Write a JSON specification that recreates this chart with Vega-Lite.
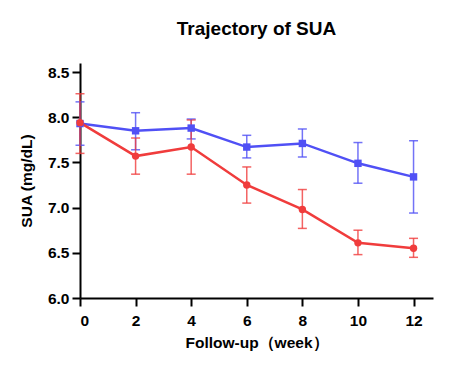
{
  "$schema": "https://vega.github.io/schema/vega-lite/v6.json",
  "width": 353,
  "height": 235,
  "autosize": "none",
  "padding": {"left": 80, "top": 63, "right": 25, "bottom": 77},
  "background": "white",
  "config": {
    "font": "Liberation Sans",
    "view": {"stroke": null},
    "axis": {
      "domainColor": "black", "domainWidth": 2, "tickColor": "black", "tickWidth": 2, "tickSize": 8,
      "grid": false, "labelFont": "Liberation Sans", "labelFontWeight": "bold", "labelFontSize": 15.5, "labelColor": "black",
      "titleFont": "Liberation Sans", "titleFontWeight": "bold", "titleFontSize": 15.5, "titleColor": "black", "labelPadding": 3
    }
  },
  "title": {"text": "Trajectory of SUA", "fontSize": 19, "fontWeight": "bold", "font": "Liberation Sans", "color": "black", "anchor": "middle", "offset": 24},
  "data": {"values": [
    {"week": 0, "group": "A", "mean": 7.93, "lower": 7.69, "upper": 8.17},
    {"week": 2, "group": "A", "mean": 7.85, "lower": 7.64, "upper": 8.05},
    {"week": 4, "group": "A", "mean": 7.88, "lower": 7.76, "upper": 7.98},
    {"week": 6, "group": "A", "mean": 7.67, "lower": 7.55, "upper": 7.80},
    {"week": 8, "group": "A", "mean": 7.71, "lower": 7.56, "upper": 7.87},
    {"week": 10, "group": "A", "mean": 7.49, "lower": 7.27, "upper": 7.72},
    {"week": 12, "group": "A", "mean": 7.34, "lower": 6.94, "upper": 7.74},
    {"week": 0, "group": "B", "mean": 7.94, "lower": 7.60, "upper": 8.26},
    {"week": 2, "group": "B", "mean": 7.57, "lower": 7.37, "upper": 7.77},
    {"week": 4, "group": "B", "mean": 7.67, "lower": 7.37, "upper": 7.97},
    {"week": 6, "group": "B", "mean": 7.25, "lower": 7.05, "upper": 7.45},
    {"week": 8, "group": "B", "mean": 6.98, "lower": 6.77, "upper": 7.20},
    {"week": 10, "group": "B", "mean": 6.61, "lower": 6.48, "upper": 6.75},
    {"week": 12, "group": "B", "mean": 6.55, "lower": 6.45, "upper": 6.66}
  ]},
  "encoding": {
    "x": {"field": "week", "type": "quantitative", "scale": {"domain": [0, 12.7], "nice": false, "zero": false},
          "axis": {"values": [0, 2, 4, 6, 8, 10, 12], "title": "Follow-up（week）", "titlePadding": 7, "labelPadding": 7}},
    "color": {"field": "group", "type": "nominal", "scale": {"domain": ["A", "B"], "range": ["#5050f5", "#f03c3c"]}, "legend": null}
  },
  "layer": [
    {
      "mark": {"type": "errorbar", "ticks": {"size": 9, "thickness": 1.5}, "rule": {"strokeWidth": 1.5}, "opacity": 0.8},
      "encoding": {
        "y": {"field": "lower", "type": "quantitative", "title": "SUA (mg/dL)", "scale": {"domain": [6, 8.6], "nice": false, "zero": false},
              "axis": {"values": [6, 6.5, 7, 7.5, 8, 8.5], "format": ".1f", "title": "SUA (mg/dL)", "titlePadding": 13}},
        "y2": {"field": "upper"}
      }
    },
    {
      "mark": {"type": "line", "strokeWidth": 2.5},
      "encoding": {
        "y": {"field": "mean", "type": "quantitative", "title": "SUA (mg/dL)"}
      }
    },
    {
      "mark": {"type": "point", "filled": true, "opacity": 1, "size": 55},
      "encoding": {
        "y": {"field": "mean", "type": "quantitative", "title": "SUA (mg/dL)"},
        "shape": {"field": "group", "type": "nominal", "scale": {"domain": ["A", "B"], "range": ["square", "circle"]}, "legend": null}
      }
    }
  ]
}
